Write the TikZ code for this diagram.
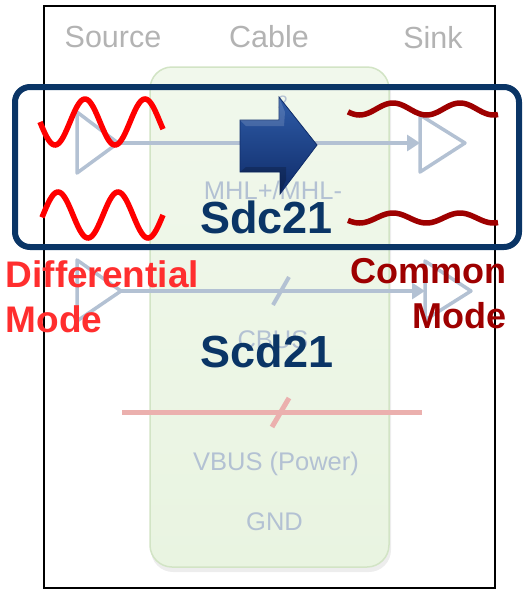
\documentclass[tikz,border=0pt]{standalone}
\usepackage{fontspec}
\setmainfont{Liberation Sans}
\usetikzlibrary{arrows.meta,shadows}
\definecolor{navy}{HTML}{0A3566}
\definecolor{graytxt}{HTML}{B3B3B3}
\definecolor{bluegray}{HTML}{B3C1D3}
\definecolor{cablefill}{HTML}{F1F8EC}
\definecolor{cablefillb}{HTML}{E9F4E1}
\definecolor{cableline}{HTML}{D2E4C5}
\definecolor{redwave}{HTML}{FF0000}
\definecolor{darkred}{HTML}{9E0000}
\definecolor{redtxt}{HTML}{FF2E2E}
\definecolor{pinkline}{HTML}{EBB0AE}
\definecolor{arrowtop}{HTML}{2F5CA8}
\definecolor{arrowbot}{HTML}{0F2C69}
\tikzset{
  hdr/.style={text=graytxt, font=\fontsize{30.5}{30.5}\selectfont, inner sep=0pt, anchor=base},
  sig/.style={text=bluegray, font=\fontsize{25.5}{25.5}\selectfont, inner sep=0pt, anchor=base},
  sparam/.style={text=navy, font=\bfseries\fontsize{45}{45}\selectfont, inner sep=0pt, anchor=base},
  buf/.style={draw=bluegray, line width=3.5pt, line join=round},
  wire/.style={draw=bluegray, line width=4pt},
  wirearrow/.style={wire, -{Triangle[length=13pt,width=16pt]}},
  redw/.style={draw=redwave, line width=5.5pt},
  dredw/.style={draw=darkred, line width=5.5pt},
  modelbl/.style={font=\bfseries\fontsize{36}{36}\selectfont, inner sep=0pt},
  modelblL/.style={font=\bfseries\fontsize{37}{37}\selectfont, inner sep=0pt},
}
\begin{document}
\begin{tikzpicture}[x=1pt,y=-1pt]
\useasboundingbox (0,0) rectangle (527,590);
% cable box
\fill[black, opacity=0.07, rounded corners=22pt] (151,71) rectangle (391,572);
\path[draw=cableline, line width=1.5pt, rounded corners=22pt, top color=cablefill, bottom color=cablefillb] (150,67) rectangle (389,567);
% headers
\node[hdr] (src) at (113,47) {Source};
\node[hdr] (cab) at (269,47) {Cable};
\node[hdr] (snk) at (433,48) {Sink};
% signal labels
\node[sig, font=\fontsize{18}{18}\selectfont] (two) at (283,108) {2};
\node[sig] (mhl) at (273,199) {MHL+/MHL-};
\node[sig] (cbus) at (273,348) {CBUS};
\node[sig] (vbus) at (276,470) {VBUS (Power)};
\node[sig] (gnd) at (274.5,530) {GND};
% buffers row 1
\coordinate (s1tip) at (118,143);
\coordinate (k1in) at (420,143);
\draw[buf] (77,112) -- (77,173) -- (s1tip) -- cycle;
\draw[buf] (420,115) -- (465,143) -- (420,172) -- cycle;
\draw[wirearrow] (s1tip) -- (k1in);
% buffers row 2
\coordinate (s2tip) at (121,291);
\coordinate (k2in) at (425,291);
\draw[buf] (77,260) -- (77,321) -- (s2tip) -- cycle;
\draw[buf] (425,261) -- (471,291) -- (425,320) -- cycle;
\draw[wirearrow] (s2tip) -- (k2in);
\draw[wire] (273,305) -- (289,277);
% power line
\coordinate (pL) at (122,412);
\coordinate (pR) at (422,412);
\draw[draw=pinkline, line width=5pt] (pL) -- (pR);
\draw[draw=pinkline, line width=5pt] (272,427) -- (289,398);
% outer frame
\draw[black, line width=2pt] (44.3,6.3) rectangle (495,588);
% navy frame
\draw[navy, line width=6pt, rounded corners=15pt] (15,87) rectangle (519,247);
% waves
\draw[redw] plot[domain=40:163, samples=90, smooth] (\x, {122+23*cos(6*(\x-55))});
\draw[redw] plot[domain=42:163, samples=90, smooth] (\x, {215-23*cos(6*(\x-58))});
\draw[dredw] plot[domain=348:498, samples=90, smooth] (\x, {109-6*cos(5.373*(\x-393))});
\draw[dredw] plot[domain=348:498, samples=90, smooth] (\x, {218-5*cos(5.373*(\x-393))});
% 3D arrow
\path[top color=arrowtop, bottom color=arrowbot, draw=arrowbot, line width=0.8pt, line join=miter]
  (240,120) -- (279,120) -- (279,97) -- (317,145) -- (280,194) -- (280,172) -- (240,172) -- cycle;
\path[fill=white, opacity=0.15] (240,120) -- (279,120) -- (279,97) -- (285,112) -- (284,126) -- (246,126) -- cycle;
\path[fill=black, opacity=0.2] (240,172) -- (280,172) -- (280,194) -- (286,180) -- (286,167) -- (246,167) -- cycle;
% S-parameter labels
\node[sparam] (sdc) at (266.5,233) {Sdc21};
\node[sparam] (scd) at (267,367) {Scd21};
% mode labels
\node[modelblL, text=redtxt, anchor=base west] (diff) at (5.5,287) {Differential};
\node[modelblL, text=redtxt, anchor=base west] (dmode) at (5.5,332) {Mode};
\node[modelbl, text=darkred, anchor=base east] (comm) at (507,283) {Common};
\node[modelbl, text=darkred, anchor=base east] (cmode) at (507,328) {Mode};
\end{tikzpicture}
\end{document}
